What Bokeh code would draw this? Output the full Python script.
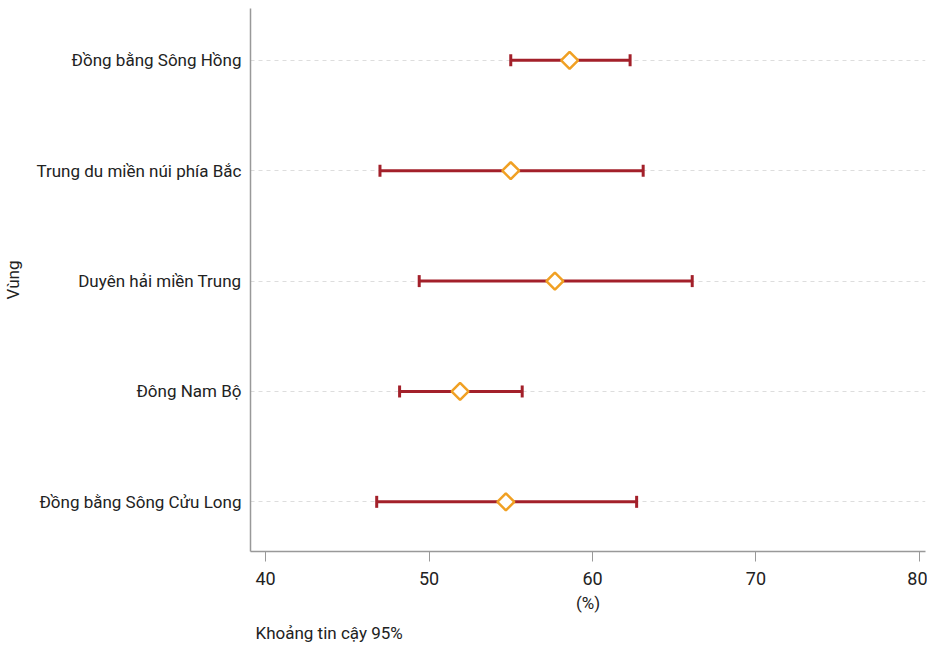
from bokeh.plotting import figure
from bokeh.models import ColumnDataSource, Range1d, Whisker, TeeHead, FixedTicker, Title
from bokeh.embed import file_html
from bokeh.resources import INLINE

regions = ["Đồng bằng Sông Cửu Long", "Đông Nam Bộ", "Duyên hải miền Trung",
           "Trung du miền núi phía Bắc", "Đồng bằng Sông Hồng"]
mean = [54.7, 51.9, 57.7, 55.0, 58.6]
lower = [46.8, 48.2, 49.4, 47.0, 55.0]
upper = [62.7, 55.7, 66.1, 63.1, 62.3]
x_ticks = [40, 50, 60, 70, 80]

ypos = list(range(len(regions)))
src = ColumnDataSource(dict(y=ypos, mean=mean, lower=lower, upper=upper))

FONT = "Roboto"
p = figure(width=927, height=647, output_backend="svg", toolbar_location=None,
           x_range=Range1d(39.08, 80.37), y_range=Range1d(-0.45, 4.47),
           min_border_left=200, min_border_right=2, min_border_top=8, min_border_bottom=5)
p.outline_line_color = None
p.background_fill_color = "white"

w = Whisker(source=src, base="y", lower="lower", upper="upper", dimension="width",
            line_color="#a3202a", line_width=3,
            lower_head=TeeHead(size=12, line_color="#a3202a", line_width=3),
            upper_head=TeeHead(size=12, line_color="#a3202a", line_width=3))
p.add_layout(w)
p.scatter(x="mean", y="y", source=src, marker="square", size=12, angle=0.785398,
          fill_color="white", line_color="#f0a023", line_width=2.5)

p.xgrid.grid_line_color = None
p.ygrid.ticker = FixedTicker(ticks=ypos)
p.ygrid.grid_line_color = "#dddddd"
p.ygrid.grid_line_dash = "4 4"
p.ygrid.grid_line_width = 1

p.yaxis.ticker = FixedTicker(ticks=ypos)
p.yaxis.major_label_overrides = {i: r for i, r in enumerate(regions)}
p.yaxis.major_tick_line_color = None
p.yaxis.major_tick_out = 0
p.yaxis.major_tick_in = 0
p.yaxis.minor_tick_line_color = None
p.yaxis.axis_line_color = "#999999"
p.yaxis.axis_line_width = 1.5
p.yaxis.major_label_text_font = FONT
p.yaxis.major_label_text_font_size = "17px"
p.yaxis.major_label_text_color = "#222222"
p.yaxis.major_label_standoff = 9
p.yaxis.axis_label = "Vùng"
p.yaxis.axis_label_text_font = FONT
p.yaxis.axis_label_text_font_style = "normal"
p.yaxis.axis_label_text_font_size = "17px"
p.yaxis.axis_label_text_color = "#222222"
p.yaxis.axis_label_standoff = 10

p.xaxis.ticker = FixedTicker(ticks=x_ticks)
p.xaxis.minor_tick_line_color = None
p.xaxis.major_tick_in = 0
p.xaxis.major_tick_out = 10
p.xaxis.major_tick_line_color = "#999999"
p.xaxis.axis_line_color = "#999999"
p.xaxis.axis_line_width = 1.5
p.xaxis.major_label_text_font = FONT
p.xaxis.major_label_text_font_size = "18px"
p.xaxis.major_label_text_color = "#222222"
p.xaxis.major_label_standoff = 10
p.xaxis.axis_label = "(%)"
p.xaxis.axis_label_text_font = FONT
p.xaxis.axis_label_text_font_style = "normal"
p.xaxis.axis_label_text_font_size = "17px"
p.xaxis.axis_label_text_color = "#222222"
p.xaxis.axis_label_standoff = 5

cap = Title(text="Khoảng tin cậy 95%", align="left", text_font=FONT,
            text_font_size="17px", text_font_style="normal", text_color="#222222",
            offset=5)
p.add_layout(cap, "below")

open("out.html", "w").write(file_html(p, INLINE))
